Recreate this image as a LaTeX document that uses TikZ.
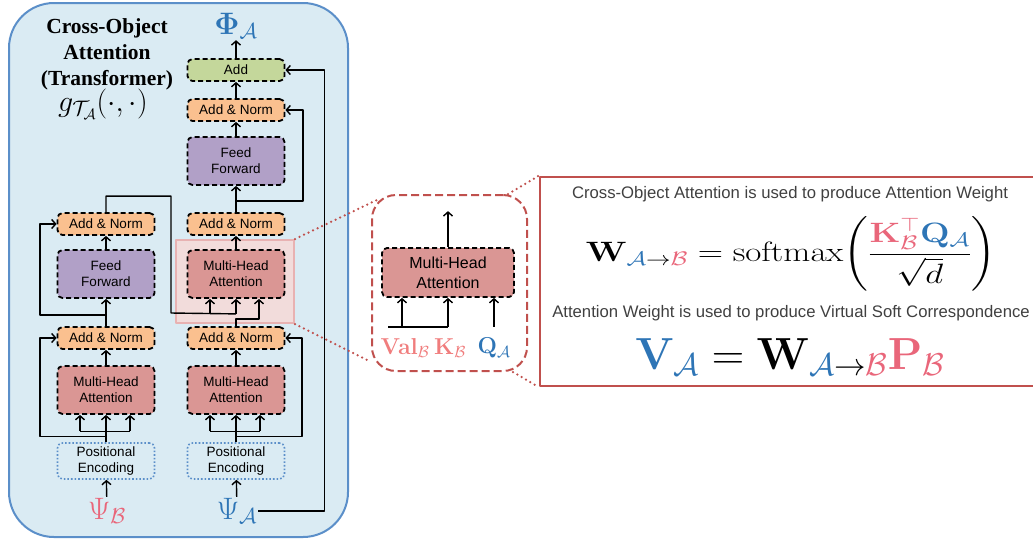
\RequirePackage{fix-cm}
\documentclass[tikz,border=0pt]{standalone}
\usepackage{amsmath}
\usepackage[no-math]{fontspec}
\setmainfont{Liberation Sans}
\newfontfamily\titlefont{Liberation Serif}
\usetikzlibrary{arrows.meta}

\definecolor{bgblue}{RGB}{218,235,243}
\definecolor{borderblue}{RGB}{91,143,201}
\definecolor{orangebox}{RGB}{250,192,143}
\definecolor{purplebox}{RGB}{177,160,199}
\definecolor{redbox}{RGB}{218,150,148}
\definecolor{greenbox}{RGB}{196,215,155}
\definecolor{hlfill}{RGB}{242,220,219}
\definecolor{hlborder}{RGB}{232,178,178}
\definecolor{framered}{RGB}{192,80,77}
\definecolor{colA}{RGB}{46,117,182}
\definecolor{colB}{RGB}{233,102,122}
\definecolor{colBl}{RGB}{240,125,125}
\definecolor{notegray}{RGB}{64,64,64}

\begin{document}
\begin{tikzpicture}[x=1pt,y=-1pt,>={Straight Barb[length=4pt,width=9pt]},
  blk/.style={draw,line width=1.8pt,dash pattern=on 5pt off 3pt,rounded corners=5pt,
    minimum width=97pt,align=center,inner sep=0pt,font=\fontsize{13.5}{16}\selectfont},
  norm/.style={blk,fill=orangebox,minimum height=22pt},
  addbox/.style={blk,fill=greenbox,minimum height=22pt},
  attn/.style={blk,fill=redbox,minimum height=48pt},
  ffn/.style={blk,fill=purplebox,minimum height=48pt},
  posenc/.style={draw=borderblue,line width=1.6pt,dotted,rounded corners=5pt,
    minimum width=97pt,minimum height=36pt,align=center,inner sep=0pt,
    font=\fontsize{13.5}{16}\selectfont},
  sym/.style={font=\fontsize{31}{31}\selectfont,inner sep=1pt},
  lbl/.style={font=\fontsize{23}{23}\selectfont,inner sep=1pt},
  note/.style={text=notegray,font=\fontsize{16.7}{19}\selectfont},
  conn/.style={line width=1.4pt},
  zoomline/.style={draw=framered,line width=2.5pt,line cap=round,dash pattern=on 0pt off 5pt},
  every path/.append style={line join=round}]
\useasboundingbox (0,0) rectangle (1033,542);

% encoder panel
\draw[draw=borderblue,fill=bgblue,line width=2pt,rounded corners=45pt] (9,3) rectangle (348,537);
\node[align=center,font=\titlefont\bfseries\fontsize{21.5}{26}\selectfont] (title) at (107,54)
  {Cross-Object\\Attention\\(Transformer)};
\node[font=\fontsize{30}{30}\selectfont] (gfun) at (103,104) {$g_{\mathcal{T}_{\mathcal{A}}}(\cdot,\cdot)$};

% highlight of the cross attention block
\node[draw=hlborder,fill=hlfill,line width=2pt,minimum width=118pt,minimum height=83pt] (hl) at (235,281.5) {};

% left column
\node[norm] (lan2) at (106,224) {Add \& Norm};
\node[ffn] (lff) at (106,274) {Feed\\Forward};
\node[norm] (lan1) at (106,338) {Add \& Norm};
\node[attn] (lmha) at (106,390) {Multi-Head\\Attention};
\node[posenc] (lpe) at (106,461) {Positional\\Encoding};
\node[sym,text=colB] (psiB) at (107,511) {$\Psi_{\mathcal{B}}$};

% right column
\node[sym,text=colA] (phiA) at (236,26) {$\boldsymbol{\Phi}_{\mathcal{A}}$};
\node[addbox] (add) at (236,70) {Add};
\node[norm] (ran3) at (236,110) {Add \& Norm};
\node[ffn] (rff) at (236,161) {Feed\\Forward};
\node[norm] (ran2) at (236,224) {Add \& Norm};
\node[attn] (rmha2) at (236,274) {Multi-Head\\Attention};
\node[norm] (ran1) at (236,338) {Add \& Norm};
\node[attn] (rmha1) at (236,390) {Multi-Head\\Attention};
\node[posenc] (rpe) at (236,461) {Positional\\Encoding};
\node[sym,text=colA] (psiA) at (237,511) {$\Psi_{\mathcal{A}}$};

% left connectors
\draw[conn,->] (psiB) -- (lpe);
\draw[conn] (lpe.north) -- ([yshift=11pt]lpe.north);
\draw[conn] ([shift={(-26pt,11pt)}]lpe.north) -- ([shift={(24pt,11pt)}]lpe.north);
\foreach \dx in {-26,0,24}
  \draw[conn,->] ([shift={(\dx pt,11pt)}]lpe.north) -- ([xshift=\dx pt]lmha.south);
\draw[conn,->] ([yshift=6pt]lpe.north) -- ++(-66,0) |- (lan1.west);
\draw[conn,->] (lmha) -- (lan1);
\draw[conn,->] (lan1) -- (lff);
\draw[conn,->] ([yshift=11pt]lan1.north) -- ++(-66,0) |- (lan2.west);
\draw[conn,->] (lff) -- (lan2);
\draw[conn] (lan2.north) -- ++(0,-16) -| (171,313) -- ([yshift=-15pt]rmha2.south);
\draw[conn,->] ([shift={(-26pt,-15pt)}]rmha2.south) -- ([xshift=-26pt]rmha2.south);
\draw[conn,->] ([yshift=-15pt]rmha2.south) -- (rmha2.south);

% right connectors
\draw[conn,->] (psiA) -- (rpe);
\draw[conn,->] (psiA.east) -| ([xshift=39pt]add.east) -- (add.east);
\draw[conn] (rpe.north) -- ([yshift=11pt]rpe.north);
\draw[conn] ([shift={(-26pt,11pt)}]rpe.north) -- ([shift={(24pt,11pt)}]rpe.north);
\foreach \dx in {-26,0,24}
  \draw[conn,->] ([shift={(\dx pt,11pt)}]rpe.north) -- ([xshift=\dx pt]rmha1.south);
\draw[conn,->] ([yshift=6pt]rpe.north) -- ++(66,0) |- (ran1.east);
\draw[conn,->] (rmha1) -- (ran1);
\draw[conn,->] (ran1.north) -- ++(0,-7) -| ([xshift=23pt]rmha2.south);
\draw[conn,->] (rmha2) -- (ran2);
\draw[conn,->] (ran2) -- (rff);
\draw[conn,->] ([yshift=11pt]ran2.north) -- ++(67,0) |- (ran3.east);
\draw[conn,->] (rff) -- (ran3);
\draw[conn,->] (ran3) -- (add);
\draw[conn,->] (add) -- (phiA);

% zoomed view
\node[draw=framered,line width=2pt,dash pattern=on 8pt off 4pt,rounded corners=24pt,
  minimum width=155pt,minimum height=176pt] (zoom) at (449.5,283) {};
\node[attn,minimum width=132pt,minimum height=49pt,font=\fontsize{16}{20}\selectfont] (imha) at (448,272.5) {Multi-Head\\Attention};
\node[lbl,text=colBl] (valB) at (405,348) {$\mathbf{Val}_{\mathcal{B}}$};
\node[lbl,text=colBl] (keyB) at (450,348) {$\mathbf{K}_{\mathcal{B}}$};
\node[lbl,text=colA] (qryA) at (494,348) {$\mathbf{Q}_{\mathcal{A}}$};
\coordinate (kv) at ([yshift=-29pt]imha.south);
\draw[conn,->] (imha.north) -- ++(0,-36);
\draw[conn] ([xshift=-60pt]kv) -- (kv);
\draw[conn,->] ([xshift=-46pt]kv) -- ([xshift=-46pt]imha.south);
\draw[conn,->] (kv) -- (imha.south);
\draw[conn,->] (kv -| qryA) -- (imha.south -| qryA);

% equations
\node[draw=framered,line width=2.5pt,minimum width=505pt,minimum height=209pt] (eqbox) at (792.5,281.5) {};
\node[note] (note1) at (790,194) {Cross-Object Attention is used to produce Attention Weight};
\node[font=\fontsize{28}{30}\selectfont] (eqW) at (791,254)
  {\scalebox{1.25}[1]{$\displaystyle\mathbf{W}_{\textcolor{colA}{\mathcal{A}}\rightarrow\textcolor{colB}{\mathcal{B}}}
    =\mathrm{softmax}\biggl(\frac{\textcolor{colB}{\mathbf{K}_{\mathcal{B}}^{\top}}\textcolor{colA}{\mathbf{Q}_{\mathcal{A}}}}{\sqrt{d}}\biggr)$}};
\node[note] (note2) at (791,313) {Attention Weight is used to produce Virtual Soft Correspondence};
\node[font=\fontsize{45}{45}\selectfont] (eqV) at (790,357)
  {$\textcolor{colA}{\mathbf{V}_{\mathcal{A}}}
    =\mathbf{W}_{\textcolor{colA}{\mathcal{A}}\rightarrow\textcolor{colB}{\mathcal{B}}}\textcolor{colB}{\mathbf{P}_{\mathcal{B}}}$};

\draw[zoomline] (hl.north east) -- ([shift={(8pt,-5pt)}]zoom.north west);
\draw[zoomline] (hl.south east) -- ([yshift=10pt]zoom.south west);
\draw[zoomline] ([xshift=-20pt]zoom.north east) -- (eqbox.north west);
\draw[zoomline] ([xshift=-15pt]zoom.south east) -- (eqbox.south west);
\end{tikzpicture}
\end{document}
